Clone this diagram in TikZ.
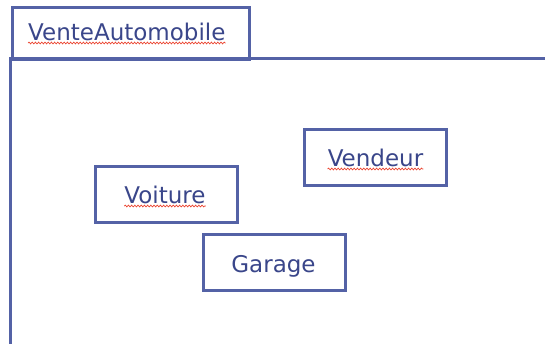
\documentclass[tikz,border=0pt]{standalone}
\usepackage{fontspec}
\setmainfont{DejaVu Sans}
\usetikzlibrary{decorations.pathmorphing}
\definecolor{umlline}{RGB}{84,98,166}
\definecolor{umltext}{RGB}{58,70,138}
\definecolor{spell}{RGB}{235,70,50}
\tikzset{
  classbox/.style={draw=umlline, line width=3pt, fill=white, minimum width=142pt, minimum height=56pt, inner sep=0pt},
  lbl/.style={text=umltext, font=\fontsize{23}{27}\selectfont, inner sep=0pt},
  squiggle/.style={draw=spell, line width=0.7pt, decorate, decoration={snake, segment length=3.2pt, amplitude=0.9pt}},
  pkgline/.style={draw=umlline, line width=3pt}
}
\begin{document}
\begin{tikzpicture}[x=1pt,y=-1pt]
\useasboundingbox (0,0) rectangle (545,343);
% package body
\coordinate (bodyTL) at (10.5,58);
\coordinate (bodyTR) at (545,58);
\coordinate (bodyBL) at (10.5,343);
\draw[pkgline, line cap=rect] (bodyBL) -- (bodyTL) -- (bodyTR);
% package tab
\node[draw=umlline, line width=3pt, minimum width=237pt, minimum height=52pt, inner sep=0pt, anchor=north west] (tab) at (10.5,6) {};
\node[lbl, anchor=base west] (tabT) at (28,40) {VenteAutomobile};
% classes
\node[classbox] (voiture) at (166.5,194) {};
\node[lbl, anchor=base] (voitureT) at (165,203) {Voiture};
\node[classbox] (vendeur) at (375.5,157) {};
\node[lbl, anchor=base] (vendeurT) at (375.5,166) {Vendeur};
\node[classbox] (garage) at (274.5,262.5) {};
\node[lbl, anchor=base] (garageT) at (273.5,272) {Garage};
% spell-check underlines
\path[squiggle] ([yshift=-3pt]tabT.base west) -- ([yshift=-3pt]tabT.base east);
\path[squiggle] ([yshift=-3pt]voitureT.base west) -- ([yshift=-3pt]voitureT.base east);
\path[squiggle] ([yshift=-3pt]vendeurT.base west) -- ([yshift=-3pt]vendeurT.base east);
\end{tikzpicture}
\end{document}
